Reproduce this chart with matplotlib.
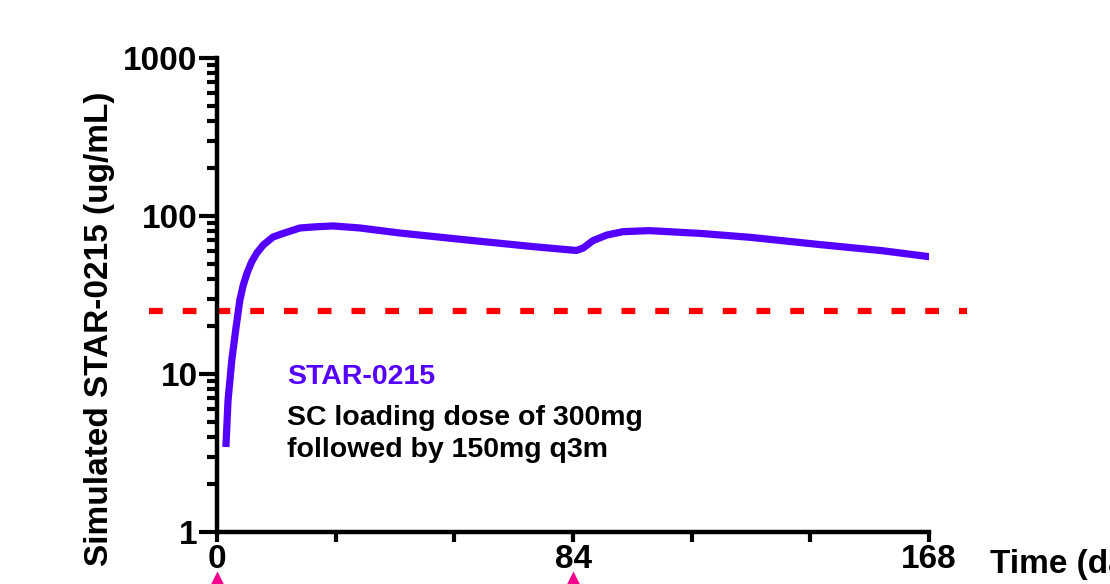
import matplotlib
matplotlib.use("Agg")
import matplotlib.pyplot as plt
from matplotlib.ticker import FixedLocator, LogLocator, NullFormatter, FuncFormatter
import matplotlib.transforms as mtransforms

plt.rcParams['font.family'] = ['Liberation Sans', 'DejaVu Sans']
plt.rcParams['font.weight'] = 'bold'

# simulated concentration curve
days = [2.1, 2.6, 3.5, 4.5, 5.4, 6.2, 7.1, 8.2, 9.4, 10.9, 13.2, 15.6, 19.6, 23.5,
        27.4, 33.7, 43.2, 59.0, 74.6, 84.8, 86.4, 88.7, 92.0, 95.8, 102.0, 114.0,
        125.8, 141.6, 157.0, 168.2]
conc = [3.45, 6.8, 12.3, 19.8, 29.4, 36.6, 43.6, 51.4, 58.3, 65.5, 73.6, 77.6, 84.0, 85.5,
        86.5, 84.0, 78.0, 70.5, 64.0, 60.5, 62.7, 69.8, 75.8, 79.6, 80.8, 77.6,
        73.3, 66.2, 60.3, 55.2]

threshold = 25
threshold_span = [-16, 177]
dose_days = [0, 84]
x_major = [0, 84, 168]
x_minor = [28, 56, 112, 140]

purple = '#5500FF'

fig = plt.figure(figsize=(11.1, 5.84), dpi=100)
ax = fig.add_axes([217 / 1110, 1 - 532 / 584, (929 - 217) / 1110, (532 - 58) / 584])

ax.plot(days, conc, color=purple, lw=5.2, solid_capstyle='butt',
        solid_joinstyle='round', zorder=3)
ax.plot(threshold_span, [threshold, threshold], color='#FF0000', lw=4.5,
        dashes=(2.2, 3.2), clip_on=False, zorder=2)

ax.set_yscale('log')
ax.set_ylim(1, 1000)
ax.set_xlim(0, 168)

ax.xaxis.set_major_locator(FixedLocator(x_major))
ax.xaxis.set_minor_locator(FixedLocator(x_minor))
ax.yaxis.set_major_locator(LogLocator(base=10, numticks=10))
ax.yaxis.set_minor_locator(LogLocator(base=10, subs=range(2, 10), numticks=10))
ax.yaxis.set_minor_formatter(NullFormatter())
ax.yaxis.set_major_formatter(FuncFormatter(lambda v, p: '%d' % v))

for s in ['top', 'right']:
    ax.spines[s].set_visible(False)
for s in ['left', 'bottom']:
    ax.spines[s].set_linewidth(3.2)
    ax.spines[s].set_capstyle('projecting')

ax.tick_params(axis='y', which='major', length=13, width=3, labelsize=24, pad=1)
ax.tick_params(axis='y', which='minor', length=7, width=3)
ax.tick_params(axis='x', which='both', length=7, width=3, labelsize=24, pad=2)
for lab in ax.get_xticklabels() + ax.get_yticklabels():
    lab.set_fontweight('bold')

# dose markers below the axis
trans = mtransforms.blended_transform_factory(ax.transData, ax.transAxes)
ax.plot(dose_days, [-0.113] * len(dose_days), marker='^', ls='none', ms=22,
        color='#F5008C', mec='none', transform=trans, clip_on=False)

ax.text(16.5, 10 ** 0.981, 'STAR-0215', color=purple, fontsize=20.5,
        fontweight='bold', va='center')
ax.text(16.5, 10 ** 0.623, 'SC loading dose of 300mg\nfollowed by 150mg q3m',
        color='black', fontsize=20.5, fontweight='bold', va='center', linespacing=1.3)

fig.text(100 / 1110, 1 - 92 / 584, 'Simulated STAR-0215 (ug/mL)', rotation=90,
         ha='center', va='top', fontsize=24, fontweight='bold')
fig.text(990 / 1110, 1 - 565 / 584, 'Time (days)', ha='left', va='center',
         fontsize=24, fontweight='bold')

fig.savefig('out.png', dpi=100)
